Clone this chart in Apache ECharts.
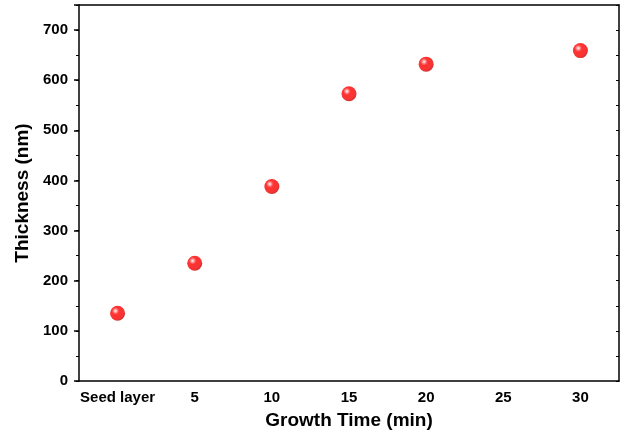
<!DOCTYPE html>
<html>
<head>
<meta charset="utf-8">
<script src="https://cdn.jsdelivr.net/npm/echarts@6/dist/echarts.min.js"></script>
<style>
  html, body { margin: 0; padding: 0; background: #fff; }
  #chart { width: 624px; height: 436px; }
</style>
</head>
<body>
<div id="chart"></div>
<script>
// 生长时间（类目）与厚度
const categories = ['Seed layer', '5', '10', '15', '20', '25', '30'];
const thickness = [135, 235, 388, 573, 632, null, 659];
const yMin = 0;
const yMax = 750;

const chart = echarts.init(document.getElementById('chart'));

const font = 'Liberation Sans, Arial, sans-serif';
const lineStyle = { color: '#000', width: 1.5 };

// 红色小球
const ball = new echarts.graphic.RadialGradient(0.36, 0.34, 0.66, [
    { offset: 0, color: '#ffffff' },
    { offset: 0.16, color: '#ff8080' },
    { offset: 0.36, color: '#ff0000' },
    { offset: 0.85, color: '#f40000' },
    { offset: 1, color: '#c80000' }
]);

chart.setOption({
    animation: false,
    grid: { left: 79, right: 5, top: 5, bottom: 55 },
    xAxis: [
        {
            type: 'category',
            data: categories,
            position: 'bottom',
            boundaryGap: true,
            name: 'Growth Time (min)',
            nameLocation: 'middle',
            nameGap: 30,
            nameTextStyle: { fontFamily: font, fontWeight: 'bold', fontSize: 19, color: '#000' },
            axisLine: { onZero: false, lineStyle: lineStyle },
            axisTick: { alignWithLabel: true, interval: 0, length: 5, lineStyle: lineStyle },
            axisLabel: { interval: 0, fontFamily: font, fontWeight: 'bold', fontSize: 15, color: '#000', margin: 9 },
            splitLine: { show: false }
        },
        {
            type: 'category',
            data: categories,
            position: 'top',
            boundaryGap: true,
            axisLine: { onZero: false, lineStyle: lineStyle },
            axisTick: { alignWithLabel: true, interval: 0, inside: true, length: 3, lineStyle: { color: '#000', width: 1 } },
            axisLabel: { show: false },
            splitLine: { show: false }
        }
    ],
    yAxis: [
        {
            type: 'value',
            position: 'left',
            min: yMin, max: yMax, interval: 100,
            name: 'Thickness (nm)',
            nameLocation: 'middle',
            nameGap: 46,
            nameTextStyle: { fontFamily: font, fontWeight: 'bold', fontSize: 19, color: '#000' },
            axisLine: { show: true, onZero: false, lineStyle: lineStyle },
            axisTick: { show: true, length: 5, lineStyle: lineStyle },
            axisLabel: {
                fontFamily: font, fontWeight: 'bold', fontSize: 15, color: '#000', margin: 11,
                formatter: v => (v % 100 === 0 ? String(v) : '')
            },
            splitLine: { show: false }
        },
        {
            type: 'value',
            position: 'left',
            min: yMin, max: yMax, interval: 50,
            axisLine: { show: false },
            axisTick: { show: true, length: 3, lineStyle: { color: '#000', width: 1 } },
            axisLabel: { show: false },
            splitLine: { show: false }
        },
        {
            type: 'value',
            position: 'right',
            min: yMin, max: yMax, interval: 50,
            axisLine: { show: true, onZero: false, lineStyle: lineStyle },
            axisTick: { show: true, inside: true, length: 3, lineStyle: { color: '#000', width: 1 } },
            axisLabel: { show: false },
            splitLine: { show: false }
        }
    ],
    series: [{
        type: 'scatter',
        xAxisIndex: 0,
        yAxisIndex: 0,
        data: thickness,
        symbol: 'circle',
        symbolSize: 15,
        itemStyle: { color: ball }
    }]
});
</script>
</body>
</html>
